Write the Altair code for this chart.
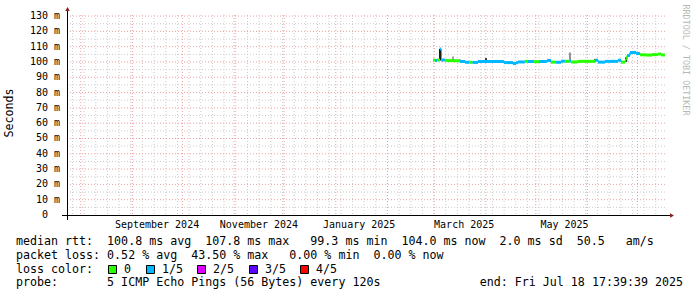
import altair as alt
import pandas as pd

# ---------------- data ----------------
T_START = alt.DateTime(year=2024, month=7, date=23, hours=17, minutes=39, seconds=39, utc=True)
T_END = alt.DateTime(year=2025, month=7, date=18, hours=17, minutes=39, seconds=39, utc=True)
DATA_END = "2025-07-17T12:00Z"

# median rtt, step segments: start time, median (ms), packet-loss class
seg_time = [
    "2025-02-28T08:00Z", "2025-03-01T12:00Z", "2025-03-02T18:00Z", "2025-03-04T13:00Z",
    "2025-03-05T06:00Z", "2025-03-05T18:00Z", "2025-03-07T12:00Z", "2025-03-09T08:00Z",
    "2025-03-12T08:00Z", "2025-03-16T13:00Z", "2025-03-19T13:00Z", "2025-03-22T00:00Z",
    "2025-03-24T00:00Z", "2025-03-27T08:00Z", "2025-04-11T22:00Z", "2025-04-17T08:00Z",
    "2025-04-19T03:00Z", "2025-04-20T08:00Z", "2025-04-24T12:00Z", "2025-04-26T08:00Z",
    "2025-04-30T00:00Z", "2025-05-03T00:00Z", "2025-05-07T17:00Z", "2025-05-10T03:00Z",
    "2025-05-13T03:00Z", "2025-05-16T03:00Z", "2025-05-18T12:00Z", "2025-05-21T12:00Z",
    "2025-05-22T03:00Z", "2025-05-26T08:00Z", "2025-06-05T13:00Z", "2025-06-07T09:00Z",
    "2025-06-11T13:00Z", "2025-06-19T09:00Z", "2025-06-21T04:00Z", "2025-06-23T13:00Z",
    "2025-06-24T06:00Z", "2025-06-24T18:00Z", "2025-06-26T13:00Z", "2025-06-30T04:00Z",
    "2025-07-02T13:00Z", "2025-07-06T04:00Z", "2025-07-09T18:00Z", "2025-07-13T09:00Z",
    "2025-07-15T04:00Z",
]
seg_ms = [
    101.2, 101.0, 101.3, 108.4,
    101.0, 101.3, 101.0, 100.9,
    100.8, 100.3, 99.8, 99.8,
    99.7, 100.3, 99.6, 99.0,
    99.5, 100.0, 100.4, 100.3,
    100.2, 100.3, 101.0, 99.9,
    99.8, 100.5, 100.4, 100.6,
    100.0, 100.4, 101.2, 99.9,
    100.4, 101.2, 99.9, 101.0,
    102.2, 104.2, 106.2, 105.5,
    104.7, 104.5, 104.8, 105.2,
    104.6,
]
seg_loss = [
    "0", "1/5", "0", "1/5",
    "0", "1/5", "0", "0",
    "0", "1/5", "1/5", "0",
    "1/5", "1/5", "1/5", "1/5",
    "1/5", "1/5", "0", "1/5",
    "0", "1/5", "1/5", "0",
    "1/5", "1/5", "0", "1/5",
    "0", "0", "1/5", "1/5",
    "1/5", "1/5", "0", "0",
    "0", "1/5", "1/5", "1/5",
    "0", "0", "0", "0",
    "0",
]

# smoke (spread of the individual pings)
smoke_time = ["2025-03-04T13:00Z", "2025-03-12T08:00Z", "2025-03-16T13:00Z", "2025-04-01T03:00Z",
              "2025-05-21T12:00Z", "2025-06-05T13:00Z", "2025-06-24T06:00Z"]
smoke_lo = [101.0, 101.0, 100.3, 100.3, 100.5, 100.4, 100.0]
smoke_hi = [108.6, 103.6, 101.5, 102.5, 106.2, 101.8, 103.0]
smoke_shade = ["#1a1a1a", "#a0a0a0", "#303030", "#303030", "#909090", "#303030", "#202020"]

month_lines = ["2024-08-01", "2024-09-01", "2024-10-01", "2024-11-01", "2024-12-01",
               "2025-01-01", "2025-02-01", "2025-03-01", "2025-04-01", "2025-05-01",
               "2025-06-01", "2025-07-01"]
week_lines = pd.date_range("2024-07-27", "2025-07-12", freq="7D").strftime("%Y-%m-%d").tolist()

x_label_time = ["2024-09-15T18:00Z", "2024-11-15T22:00Z", "2025-01-15T01:00Z",
                "2025-03-19T01:00Z", "2025-05-18T06:00Z"]
x_label_text = ["September 2024", "November 2024", "January 2025", "March 2025", "May 2025"]

y_major = list(range(0, 140, 10))
y_minor = list(range(5, 130, 10))
y_label_text = ["0"] + [f"{v} m" for v in y_major[1:]]

loss_names = ["0", "1/5", "2/5", "3/5", "4/5"]
loss_colors = ["#26ff00", "#00b8ff", "#dd00ff", "#5e00ff", "#ff0000"]

legend_lines = [
    "median rtt:  100.8 ms avg  107.8 ms max   99.3 ms min  104.0 ms now  2.0 ms sd  50.5   am/s",
    "packet loss: 0.52 % avg  43.50 % max   0.00 % min  0.00 % now",
    "loss color:",
    "probe:       5 ICMP Echo Pings (56 Bytes) every 120s",
]
end_text = "end: Fri Jul 18 17:39:39 2025"

# ---------------- tables ----------------
NB = "\u00a0"
seg = pd.DataFrame({"t": seg_time, "ms": seg_ms, "loss": seg_loss})
seg["t2"] = seg["t"].shift(-1).fillna(DATA_END)
seg["ms_next"] = seg["ms"].shift(-1)
conn = seg.dropna(subset=["ms_next"])

smoke = pd.DataFrame({"t": smoke_time, "lo": smoke_lo, "hi": smoke_hi, "shade": smoke_shade})
months = pd.DataFrame({"t": [m + "T00:00:00Z" for m in month_lines]})
weeks = pd.DataFrame({"t": [w + "T00:00:00Z" for w in week_lines]})
ymaj = pd.DataFrame({"v": y_major[1:]})
ymin = pd.DataFrame({"v": y_minor})
xlab = pd.DataFrame({"t": x_label_time, "s": [s.replace(" ", NB) for s in x_label_text]})
ylab = pd.DataFrame({"v": y_major, "s": [s.replace(" ", NB) for s in y_label_text]})
ylab_nz = ylab[ylab["v"] != 0]
ylab_z = ylab[ylab["v"] == 0]

FONT = "DejaVu Sans Mono"
FS = 11.65
xscale = alt.Scale(type="utc", domain=[T_START, T_END])
yscale = alt.Scale(domain=[0, 130.7], nice=False, zero=False)

X = lambda f: alt.X(f"{f}:T", scale=xscale, axis=None)
Y = lambda f: alt.Y(f"{f}:Q", scale=yscale, axis=None)
GRID_MIN = "#cccccc"
GRID_MAJ = "#f0a0a0"

minor_v = alt.Chart(weeks).mark_rule(color=GRID_MIN, strokeWidth=1, strokeDash=[1, 2]).encode(
    x=X("t"), y=alt.value(0), y2=alt.value(200))
minor_h = alt.Chart(ymin).mark_rule(color=GRID_MIN, strokeWidth=1, strokeDash=[1, 2]).encode(
    y=Y("v"), x=alt.value(0), x2=alt.value(600))
major_v = alt.Chart(months).mark_rule(color=GRID_MAJ, strokeWidth=1, strokeDash=[1, 2]).encode(
    x=X("t"), y=alt.value(0), y2=alt.value(200))
major_h = alt.Chart(ymaj).mark_rule(color=GRID_MAJ, strokeWidth=1, strokeDash=[1, 2]).encode(
    y=Y("v"), x=alt.value(0), x2=alt.value(600))

xlab_l = alt.Chart(xlab).mark_text(font=FONT, fontSize=10, align="center", baseline="middle",
                                   color="#000000").encode(x=X("t"), y=alt.value(210), text="s:N")
ylab_l = alt.Chart(ylab_nz).mark_text(font=FONT, fontSize=10, align="right", baseline="middle",
                                      color="#000000").encode(y=Y("v"), x=alt.value(-7), text="s:N")
ylab0_l = alt.Chart(ylab_z).mark_text(font=FONT, fontSize=10, align="center", baseline="middle",
                                      color="#000000").encode(y=Y("v"), x=alt.value(-22), text="s:N")

smoke_l = alt.Chart(smoke).mark_rule(strokeWidth=2).encode(
    x=X("t"), y=Y("lo"), y2="hi", color=alt.Color("shade:N", scale=None))

cscale = alt.Scale(domain=loss_names, range=loss_colors)
conn_l = alt.Chart(conn).mark_rule(strokeWidth=1.5).encode(
    x=X("t2"), y=Y("ms"), y2="ms_next",
    color=alt.Color("loss:N", scale=cscale, legend=None))
seg_l = alt.Chart(seg).mark_rule(strokeWidth=3).encode(
    x=X("t"), x2="t2", y=Y("ms"),
    color=alt.Color("loss:N", scale=cscale, legend=None))

layers = [minor_v, minor_h, major_v, major_h, xlab_l, ylab_l, ylab0_l, conn_l, smoke_l, seg_l]

# axis lines + arrows (decoration, pixel positions relative to plot area)
one = pd.DataFrame({"k": [0]})
def rule(x, x2, y, y2, color="#000000"):
    return alt.Chart(one).mark_rule(color=color, strokeWidth=1).encode(
        x=alt.value(x), x2=alt.value(x2), y=alt.value(y), y2=alt.value(y2))
layers.append(rule(0.5, 0.5, 205, -4))
layers.append(rule(-5, 603, 200.5, 200.5))
layers.append(alt.Chart(one).mark_point(filled=True, color="#8b1a1a", size=20, opacity=1,
                                        shape="triangle-up").encode(x=alt.value(0.5), y=alt.value(-6)))
layers.append(alt.Chart(one).mark_point(filled=True, color="#8b1a1a", size=20, opacity=1,
                                        shape="triangle-right").encode(x=alt.value(605), y=alt.value(200.5)))

def text(s, x, y, align="left", size=FS, angle=0, color="#000000"):
    return alt.Chart(pd.DataFrame({"s": [s.replace(" ", NB)]})).mark_text(
        font=FONT, fontSize=size, align=align, baseline="middle", angle=angle, color=color).encode(
        x=alt.value(x), y=alt.value(y), text="s:N")

for line, yy in zip(legend_lines, [226.5, 240.5, 254.5, 268]):
    layers.append(text(line, -51, yy))
layers.append(text(end_text, 616, 268, align="right"))

box_x = [45.5, 83.5, 134.5, 186.5, 237.5]
for name, col, bx in zip(loss_names, loss_colors, box_x):
    layers.append(alt.Chart(one).mark_square(size=64, strokeWidth=1, stroke="#000000", fill=col,
                                             opacity=1).encode(x=alt.value(bx), y=alt.value(254.5)))
    layers.append(text(name, bx + 11.5, 254.5))

layers.append(text("Seconds", -57, 98, align="center", angle=270))
layers.append(text("RRDTOOL / TOBI OETIKER", 619, 45, align="center", size=8.4, angle=90,
                   color="#b8b8b8"))

chart = alt.layer(*layers).properties(
    width=600, height=200,
    padding={"left": 67, "top": 15, "right": 30, "bottom": 82},
    autosize=alt.AutoSizeParams(type="none"),
    background="#ffffff",
).configure_view(stroke=None)

chart.save("out.html", embed_options={"renderer": "svg", "actions": False})
